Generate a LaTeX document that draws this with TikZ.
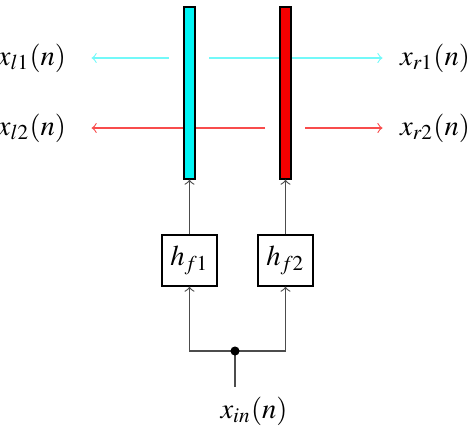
\documentclass[tikz,border=0pt]{standalone}
\usepackage{mathptmx}
\definecolor{barcyan}{RGB}{0,245,245}
\definecolor{barred}{RGB}{245,0,0}
\tikzset{
  bar/.style={draw, inner sep=0pt, minimum width=3.85pt, minimum height=60.2pt},
  filt/.style={draw, fill=white, inner sep=0pt, minimum width=19.25pt, minimum height=17.85pt},
  feed/.style={->, black!70},
  cyanout/.style={->, barcyan!55},
  redout/.style={->, barred!70},
}
\begin{document}
\begin{tikzpicture}[x=0.35pt, y=-0.35pt]
  \useasboundingbox (0,0) rectangle (473,426);

  % output labels
  \node (xl1) at (32,58) {$x_{l1}(n)$};
  \node (xl2) at (32,128) {$x_{l2}(n)$};
  \node (xr1) at (435,58) {$x_{r1}(n)$};
  \node (xr2) at (435,128) {$x_{r2}(n)$};

  % output arrows (behind the bars)
  \coordinate (l1) at (169,58);
  \coordinate (r1) at (209,58);
  \coordinate (l2) at (265,128);
  \coordinate (r2) at (305,128);
  \draw[cyanout, shorten >=5.4pt] (l1) -- (xl1);
  \draw[cyanout, shorten >=2.6pt] (r1) -- (xr1);
  \draw[redout, shorten >=5.4pt] (l2) -- (xl2);
  \draw[redout, shorten >=2.6pt] (r2) -- (xr2);

  % bars
  \node[bar, fill=barcyan] (bar1) at (189.5,93) {};
  \node[bar, fill=barred] (bar2) at (285.5,93) {};

  % filters
  \node[filt] (hf1) at (189.5,260.5) {$h_{f1}$};
  \node[filt] (hf2) at (285.5,260.5) {$h_{f2}$};
  \draw[feed] (hf1) -- (bar1);
  \draw[feed] (hf2) -- (bar2);

  % input
  \coordinate (split) at (235,351);
  \node (xin) at (254,411) {$x_{in}(n)$};
  \draw[black!70] (split |- xin.north) -- (split);
  \draw[feed] (split) -| (hf1);
  \draw[feed] (split) -| (hf2);
  \fill (split) circle (1.6pt);
\end{tikzpicture}
\end{document}
